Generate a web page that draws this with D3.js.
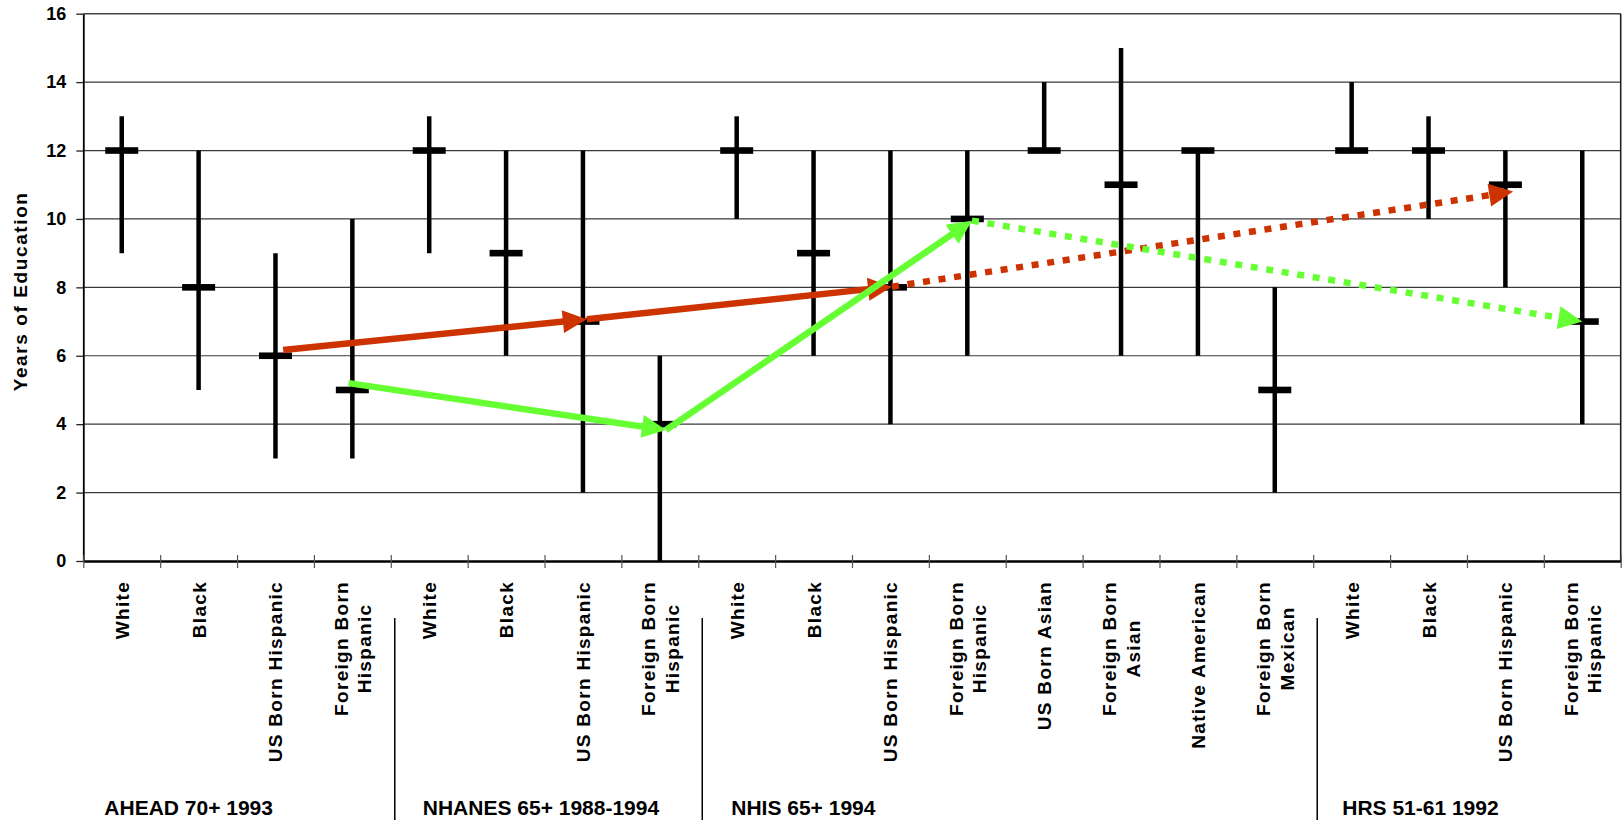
<!DOCTYPE html>
<html>
<head>
<meta charset="utf-8">
<script src="https://cdn.jsdelivr.net/npm/d3@7"></script>
<style>
  html, body { margin: 0; padding: 0; background: #ffffff; }
  svg { display: block; }
  text { font-family: "Liberation Sans", Arial, sans-serif; font-weight: bold; fill: #000; }
</style>
</head>
<body>
<svg id="chart" width="1623" height="820"></svg>
<script>
// ---------------- DATA ----------------
const categories = [
  "White", "Black", "US Born Hispanic", "Foreign Born|Hispanic",
  "White", "Black", "US Born Hispanic", "Foreign Born|Hispanic",
  "White", "Black", "US Born Hispanic", "Foreign Born|Hispanic",
  "US Born Asian", "Foreign Born|Asian", "Native American", "Foreign Born|Mexican",
  "White", "Black", "US Born Hispanic", "Foreign Born|Hispanic"
];
const medians = [12, 8, 6, 5,  12, 9, 7, 4,  12, 9, 8, 10, 12, 11, 12, 5,  12, 12, 11, 7];
const lows    = [ 9, 5, 3, 3,   9, 6, 2, 0,  10, 6, 4,  6, 12,  6,  6, 2,  12, 10,  8, 4];
const highs   = [13, 12, 9, 10, 13, 12, 12, 6, 13, 12, 12, 12, 14, 15, 12, 8, 14, 13, 12, 12];

const groupNames = ["AHEAD 70+ 1993", "NHANES 65+ 1988-1994", "NHIS 65+ 1994", "HRS 51-61 1992"];
const groupSizes = [4, 4, 8, 4];

const yTicks = [0, 2, 4, 6, 8, 10, 12, 14, 16];
const yTitle = "Years of Education";

// arrow paths: [category position, years]
const redSolid    = [[2.1, 6.17], [6.05, 7.07], [10.02, 8.02]];
const redDotted   = [[10.02, 8.02], [18.1, 10.8]];
const greenSolid  = [[2.95, 5.2], [7.08, 3.83], [11.06, 9.95]];
const greenDotted = [[11.06, 9.95], [19.0, 7.0]];

// ---------------- LAYOUT ----------------
const svg = d3.select("#chart");
const pLeft = 83.3, pRight = 1620.7, pTop = 13.7, pBottom = 561;

const xb = d3.scaleLinear().domain([0, categories.length]).range([pLeft, pRight]);
const xc = p => xb(p + 0.5);
const y = d3.scaleLinear().domain([0, 16]).range([pBottom, pTop]);

// gridlines
svg.append("g").selectAll("line")
  .data(yTicks.filter(v => v > 0))
  .join("line")
  .attr("x1", pLeft).attr("x2", pRight)
  .attr("y1", d => y(d)).attr("y2", d => y(d))
  .attr("stroke", d => d === 16 ? "#444" : "#3a3a3a")
  .attr("stroke-width", d => d === 16 ? 1.6 : 1.2);

// right border
svg.append("line")
  .attr("x1", pRight).attr("x2", pRight).attr("y1", pTop).attr("y2", pBottom)
  .attr("stroke", "#222").attr("stroke-width", 1.6);

// y axis
const yAxis = svg.append("g")
  .attr("transform", `translate(${pLeft},0)`)
  .call(d3.axisLeft(y).tickValues(yTicks).tickSize(7).tickSizeOuter(0).tickPadding(10));
yAxis.select(".domain").attr("stroke", "#000").attr("stroke-width", 1.8);
yAxis.selectAll(".tick line").attr("stroke", "#222").attr("stroke-width", 1.3);
yAxis.selectAll(".tick text")
  .style("font-family", "'Liberation Sans', Arial, sans-serif")
  .style("font-weight", "bold").style("font-size", "18px").attr("fill", "#000");

// x axis (ticks at category boundaries)
const xAxis = svg.append("g")
  .attr("transform", `translate(0,${pBottom})`)
  .call(d3.axisBottom(xb).tickValues(d3.range(0, categories.length + 1))
    .tickFormat("").tickSize(7).tickSizeOuter(0));
xAxis.select(".domain").attr("stroke", "#000").attr("stroke-width", 2.6);
xAxis.selectAll(".tick line").attr("y1", -6).attr("stroke", "#555").attr("stroke-width", 1.2);

// y title
svg.append("text")
  .attr("transform", `translate(20,${(pTop + pBottom) / 2 + 4}) rotate(-90)`)
  .attr("text-anchor", "middle")
  .attr("dominant-baseline", "central")
  .style("font-size", "19px").style("letter-spacing", "1.6px")
  .text(yTitle);

// error bars
const idx = d3.range(categories.length);
svg.append("g").selectAll("line")
  .data(idx).join("line")
  .attr("x1", i => xc(i)).attr("x2", i => xc(i))
  .attr("y1", i => y(lows[i])).attr("y2", i => y(highs[i]))
  .attr("stroke", "#000").attr("stroke-width", 4.5);

svg.append("g").selectAll("rect")
  .data(idx).join("rect")
  .attr("x", i => xc(i) - 16.5).attr("width", 33)
  .attr("y", i => y(medians[i]) - 3.3).attr("height", 6.6)
  .attr("fill", "#000");

// arrows
function drawArrow(points, color, dashed) {
  const g = svg.append("g");
  for (let k = 0; k < points.length - 1; k++) {
    const x0 = xc(points[k][0]), y0 = y(points[k][1]);
    const x1 = xc(points[k + 1][0]), y1 = y(points[k + 1][1]);
    const dx = x1 - x0, dy = y1 - y0, len = Math.hypot(dx, dy);
    const ux = dx / len, uy = dy / len;
    const L = 24, hw = 11.5;
    g.append("line")
      .attr("x1", x0).attr("y1", y0)
      .attr("x2", x1 - ux * (L - 3)).attr("y2", y1 - uy * (L - 3))
      .attr("stroke", color).attr("stroke-width", 6.5)
      .attr("stroke-dasharray", dashed ? "7,8.7" : null);
    const bx = x1 - ux * L, by = y1 - uy * L;
    g.append("path")
      .attr("d", d3.line()([[x1, y1], [bx - uy * hw, by + ux * hw], [bx + uy * hw, by - ux * hw]]) + "Z")
      .attr("fill", color);
  }
}
drawArrow(redSolid, "#cc3300", false);
drawArrow(redDotted, "#cc3300", true);
drawArrow(greenSolid, "#66ff33", false);
drawArrow(greenDotted, "#66ff33", true);

// category labels
const labelTop = 581, lineGap = 23.5;
idx.forEach(i => {
  const lines = categories[i].split("|");
  const g = svg.append("g").attr("transform", `translate(${xc(i)},${labelTop}) rotate(-90)`);
  const t = g.append("text")
    .attr("text-anchor", "middle")
    .attr("dominant-baseline", "central")
    .style("font-size", "19px").style("letter-spacing", "1.3px");
  const spans = lines.map((ln, j) => t.append("tspan")
    .attr("y", (j - (lines.length - 1) / 2) * lineGap)
    .text(ln));
  const L = d3.max(spans, s => s.node().getComputedTextLength());
  spans.forEach(s => s.attr("x", -L / 2));
});

// group dividers and labels
const groupLabelDx = [21, 32, 33, 29];
let start = 0;
groupNames.forEach((name, gi) => {
  const x0 = xb(start);
  if (gi > 0) {
    svg.append("line")
      .attr("x1", x0 + 4).attr("x2", x0 + 4)
      .attr("y1", 618).attr("y2", 820)
      .attr("stroke", "#000").attr("stroke-width", 1.5);
  }
  svg.append("text")
    .attr("x", x0 + groupLabelDx[gi]).attr("y", 815)
    .style("font-size", "21px")
    .text(name);
  start += groupSizes[gi];
});
</script>
</body>
</html>
